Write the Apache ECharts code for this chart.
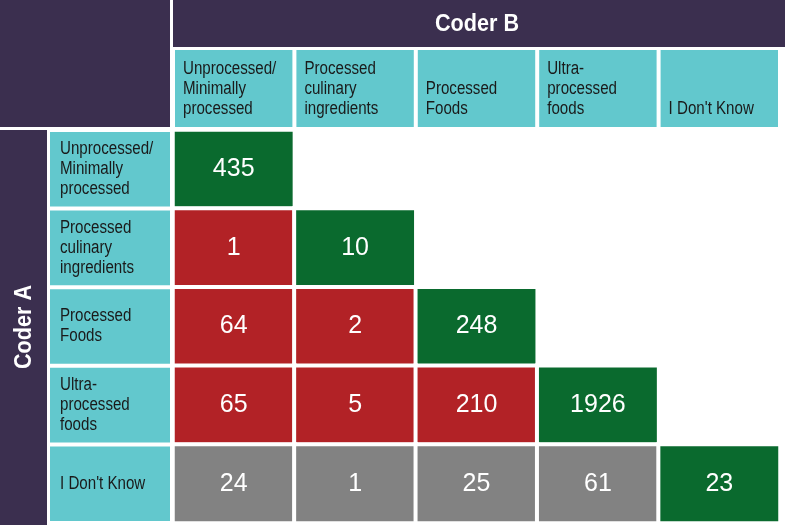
<!DOCTYPE html>
<html><head><meta charset="utf-8">
<script src="https://cdn.jsdelivr.net/npm/echarts@6/dist/echarts.min.js"></script>
<style>html,body{margin:0;padding:0;background:#fff}#c{width:789px;height:532px}</style>
</head><body><div id="c"></div>
<script>
const categories = ["Unprocessed/\nMinimally\nprocessed","Processed\nculinary\ningredients","Processed\nFoods","Ultra-\nprocessed\nfoods","I Don't Know"];
// [coderB column index, coderA row index, count]
const cells = [
  [0,0,435],
  [0,1,1],[1,1,10],
  [0,2,64],[1,2,2],[2,2,248],
  [0,3,65],[1,3,5],[2,3,210],[3,3,1926],
  [0,4,24],[1,4,1],[2,4,25],[3,4,61],[4,4,23]
];
const titleB = "Coder B", titleA = "Coder A";

const PURPLE="#3b2f4f", TEAL="#62c8cd", GREEN="#0a6a2e", RED="#b22226", GRAY="#828282";
const FONT="'Liberation Sans Narrow','Liberation Sans',Arial,sans-serif";
const L=173,T=130,W=607,H=393;
const cw=W/5, rh=H/5;
const SX=0.84;

function cellColor(c){ if(c[0]===c[1]) return GREEN; if(c[1]===4) return GRAY; return RED; }

const graphics=[
  {type:'rect',shape:{x:0,y:0,width:170,height:127},style:{fill:PURPLE}},
  {type:'rect',shape:{x:173,y:0,width:612,height:47},style:{fill:PURPLE}},
  {type:'text',x:477,y:24,scaleX:0.9,style:{text:titleB,fill:'#fff',font:'bold 24px '+FONT,textAlign:'center',textVerticalAlign:'middle'}},
  {type:'rect',shape:{x:0,y:130,width:47,height:395},style:{fill:PURPLE}},
  {type:'text',x:24,y:327,rotation:Math.PI/2,scaleX:0.9,style:{text:titleA,fill:'#fff',font:'bold 24px '+FONT,textAlign:'center',textVerticalAlign:'middle'}}
];
categories.forEach((c,i)=>{
  const x=L+i*cw+2;
  graphics.push({type:'rect',shape:{x:x,y:50,width:cw-4,height:77},style:{fill:TEAL}});
  graphics.push({type:'text',x:x+8,y:119,scaleX:SX,style:{text:c,fill:'#1a1a1a',font:'18px '+FONT,textAlign:'left',textVerticalAlign:'bottom',lineHeight:20}});
  const y=T+i*rh+2;
  graphics.push({type:'rect',shape:{x:50,y:y,width:120,height:rh-4},style:{fill:TEAL}});
  graphics.push({type:'text',x:60,y:y+(rh-4)/2,scaleX:SX,style:{text:c,fill:'#1a1a1a',font:'18px '+FONT,textAlign:'left',textVerticalAlign:'middle',lineHeight:20}});
});

const chart=echarts.init(document.getElementById('c'));
chart.setOption({
  animation:false,
  grid:{left:L,top:T,width:W,height:H},
  xAxis:{type:'category',data:categories,show:false},
  yAxis:{type:'category',data:categories,inverse:true,show:false},
  series:[{type:'heatmap',
    data:cells.map(c=>({value:c,itemStyle:{color:cellColor(c)}})),
    itemStyle:{borderColor:'#fff',borderWidth:4},
    label:{show:true,color:'#fff',fontSize:25,fontFamily:FONT,formatter:p=>p.value[2]},
    emphasis:{disabled:true}
  }],
  graphic:graphics
});
</script></body></html>
